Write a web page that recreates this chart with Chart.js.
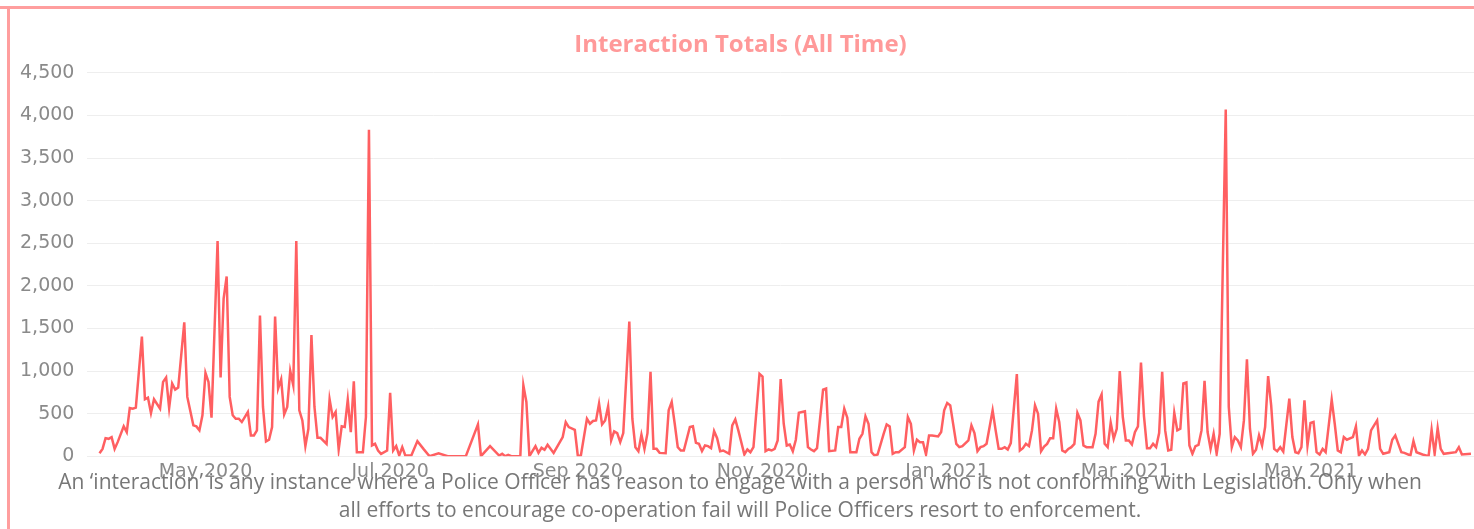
<!DOCTYPE html>
<html>
<head>
<meta charset="utf-8">
<script src="https://cdn.jsdelivr.net/npm/chart.js@4.4.0/dist/chart.umd.min.js"></script>
<style>
  html, body { margin: 0; padding: 0; background: #fff; }
  #wrap { position: relative; width: 1474px; height: 529px; overflow: hidden; }
  #chart { position: absolute; left: 0; top: 0; }
  .frame-top { position: absolute; left: 0; top: 6px; width: 1474px; height: 3px; background: #ff9e9e; }
  .frame-left { position: absolute; left: 7px; top: 6px; width: 3px; height: 523px; background: #ff9e9e; }
  #note {
    position: absolute; left: 3px; top: 467px; width: 1474px;
    text-align: center; color: #777; line-height: 29px;
    font: 21px 'Open Sans', sans-serif;
  }
</style>
</head>
<body>
<div id="wrap">
  <canvas id="chart" width="1474" height="529"></canvas>
  <div class="frame-top"></div>
  <div class="frame-left"></div>
  <div id="note">An ‘interaction’ is any instance where a Police Officer has reason to engage with a person who is not conforming with Legislation. Only when<br>all efforts to encourage co-operation fail will Police Officers resort to enforcement.</div>
</div>
<script>
// daily interaction totals, day 0 = 27 Mar 2020 (days with no record are skipped)
const days = [
  0, 1, 2, 3, 4, 5, 6, 8, 9, 10, 11, 12, 14, 15, 16, 17, 18, 20, 21, 22, 23, 24, 25, 26, 28, 29,
  31, 32, 33, 34, 35, 36, 37, 39, 40, 41, 42, 43, 44, 45, 46, 47, 49, 50, 51, 52, 53, 54, 55, 56,
  57, 58, 59, 60, 61, 62, 63, 64, 65, 66, 67, 68, 69, 70, 71, 72, 73, 75, 76, 77, 78, 79, 80, 81,
  82, 83, 84, 85, 87, 88, 89, 90, 91, 92, 93, 95, 96, 97, 98, 99, 100, 101, 103, 105, 107, 109,
  112, 115, 121, 125, 126, 129, 132, 133, 134, 135, 136, 139, 140, 141, 142, 144, 145, 146, 147,
  148, 150, 153, 154, 155, 157, 158, 159, 161, 162, 163, 164, 165, 166, 167, 168, 169, 170, 171,
  172, 173, 175, 176, 177, 178, 179, 180, 181, 182, 183, 184, 185, 187, 188, 189, 190, 191, 192,
  193, 195, 196, 197, 198, 199, 200, 201, 202, 203, 204, 205, 206, 208, 209, 210, 211, 213, 214,
  215, 216, 218, 219, 220, 221, 222, 223, 224, 225, 226, 227, 228, 229, 230, 231, 233, 234, 235,
  236, 237, 239, 240, 241, 243, 244, 245, 246, 247, 248, 250, 251, 252, 253, 254, 255, 256, 257,
  259, 260, 261, 262, 263, 264, 266, 267, 268, 269, 270, 271, 272, 273, 274, 275, 277, 278, 279,
  280, 281, 283, 284, 285, 287, 288, 289, 290, 291, 292, 293, 295, 296, 297, 298, 299, 300, 301,
  303, 304, 305, 306, 307, 308, 309, 310, 311, 312, 313, 314, 315, 316, 317, 318, 319, 320, 321,
  322, 323, 324, 325, 326, 328, 329, 330, 331, 332, 333, 334, 335, 336, 337, 338, 339, 340, 341,
  342, 343, 344, 345, 346, 347, 348, 349, 350, 351, 352, 353, 354, 355, 356, 357, 358, 359, 360,
  361, 362, 363, 364, 365, 366, 367, 368, 369, 370, 372, 373, 374, 375, 376, 377, 378, 379, 380,
  381, 382, 383, 384, 385, 386, 387, 388, 389, 390, 391, 393, 394, 395, 396, 397, 398, 399, 400,
  401, 402, 403, 404, 405, 407, 408, 409, 410, 411, 412, 414, 415, 416, 417, 418, 419, 420, 421,
  422, 423, 424, 426, 427, 428, 429, 430, 431, 433, 434, 435, 437, 439, 440, 441, 442, 443, 444,
  448, 449, 450, 453
];
const totals = [
  35, 86, 212, 204, 224, 86, 165, 350, 283, 566, 558, 570, 1403, 668, 688, 507, 668, 558, 872, 924, 566, 853, 782, 806, 1572, 696,
  362, 350, 303, 480, 979, 872, 452, 2525, 924, 1850, 2110, 696, 480, 440, 440, 401, 519, 244, 244, 303, 1650, 578, 173, 193,
  342, 1639, 794, 904, 491, 578, 1002, 833, 2525, 538, 420, 118, 322, 1423, 578, 216, 216, 145, 668, 460, 519, 79, 350, 342,
  664, 283, 880, 47, 47, 460, 3830, 126, 145, 67, 28, 67, 743, 67, 118, 8, 106, 8, 8, 177, 86, 0,
  35, 0, 0, 373, 0, 118, 8, 28, 0, 16, 0, 0, 833, 637, 0, 118, 39, 98, 75,
  134, 39, 224, 401, 342, 310, 0, 8, 440, 381, 413, 420, 617, 373, 420, 586, 185, 291, 271,
  165, 271, 1580, 440, 106, 59, 252, 86, 271, 990, 86, 86, 39, 35, 538, 637, 381, 106, 67,
  67, 342, 350, 157, 145, 59, 126, 118, 94, 295, 212, 59, 67, 28, 362, 432, 303, 20, 79,
  47, 106, 967, 935, 59, 79, 67, 86, 185, 904, 381, 126, 138, 59, 193, 511, 527, 106, 79,
  59, 94, 782, 794, 59, 67, 342, 342, 558, 452, 47, 47, 204, 263, 468, 381, 47, 8, 20,
  263, 373, 350, 28, 47, 47, 106, 460, 381, 67, 193, 165, 165, 20, 244, 244, 232, 283, 538,
  625, 597, 145, 106, 118, 185, 362, 271, 59, 106, 118, 145, 538, 303, 86, 86, 106, 79, 153,
  963, 67, 94, 145, 118, 303, 597, 499, 59, 114, 145, 212, 212, 558, 401, 67, 47, 86, 106,
  145, 507, 420, 126, 106, 106, 263, 640, 725, 145, 106, 393, 204, 322, 998, 460, 185, 185, 138,
  283, 350, 1100, 468, 94, 94, 145, 106, 271, 990, 303, 67, 75, 511, 303, 322, 853, 865, 126,
  28, 118, 134, 303, 884, 283, 86, 263, 28, 263, 4068, 578, 106, 224, 185, 106, 420, 1136, 322,
  28, 75, 244, 126, 342, 939, 600, 86, 59, 106, 55, 676, 224, 47, 35, 106, 656, 126, 389,
  401, 47, 20, 86, 47, 664, 381, 67, 47, 224, 193, 224, 350, 8, 67, 20, 86, 303, 362,
  420, 86, 28, 47, 193, 244, 145, 47, 39, 8, 177, 47, 20, 0, 310, 28, 330, 86, 28,
  47, 106, 20, 28
];

// month ticks shown on the time axis (day offsets from 27 Mar 2020)
const tickDays = [35, 96, 158, 219, 280, 339, 400];
const tickLabels = ['May 2020', 'Jul 2020', 'Sep 2020', 'Nov 2020', 'Jan 2021', 'Mar 2021', 'May 2021'];
const yTicks = [0, 500, 1000, 1500, 2000, 2500, 3000, 3500, 4000, 4500];

const LINE_COLOR  = '#ff5f61';
const TITLE_COLOR = '#ff9999';
const MUTED       = '#8a8a8a';
const GRID        = '#eeeeee';

const points = days.map((d, i) => ({ x: d, y: totals[i] }));

new Chart(document.getElementById('chart'), {
  type: 'line',
  data: {
    datasets: [{
      label: 'Interactions',
      data: points,
      borderColor: LINE_COLOR,
      borderWidth: 2.5,
      pointRadius: 0,
      tension: 0,
      fill: false,
    }],
  },
  options: {
    responsive: false,
    animation: false,
    layout: { padding: { left: 7, right: 0, top: 0, bottom: 42 } },
    plugins: {
      legend:  { display: false },
      tooltip: { enabled: false },
      title: {
        display: true,
        text: 'Interaction Totals (All Time)',
        color: TITLE_COLOR,
        font: { family: 'Open Sans', size: 24, weight: 'bold' },
        padding: { top: 31, bottom: 13 },
      },
    },
    scales: {
      x: {
        type: 'linear',
        min: -4,
        max: 454,
        grid: { display: false, drawTicks: false },
        border: { display: false },
        afterBuildTicks: axis => { axis.ticks = tickDays.map(v => ({ value: v })); },
        ticks: {
          autoSkip: false,
          maxRotation: 0,
          color: MUTED,
          padding: 4,
          font: { family: 'DejaVu Sans', size: 19 },
          callback: v => tickLabels[tickDays.indexOf(v)],
        },
      },
      y: {
        min: 0,
        max: 4500,
        afterBuildTicks: axis => { axis.ticks = yTicks.map(v => ({ value: v })); },
        grid: { color: GRID, drawTicks: false },
        border: { display: false },
        ticks: {
          color: MUTED,
          padding: 13,
          font: { family: 'DejaVu Sans', size: 19 },
          callback: v => v.toLocaleString('en-US'),
        },
      },
    },
  },
});
</script>
</body>
</html>
